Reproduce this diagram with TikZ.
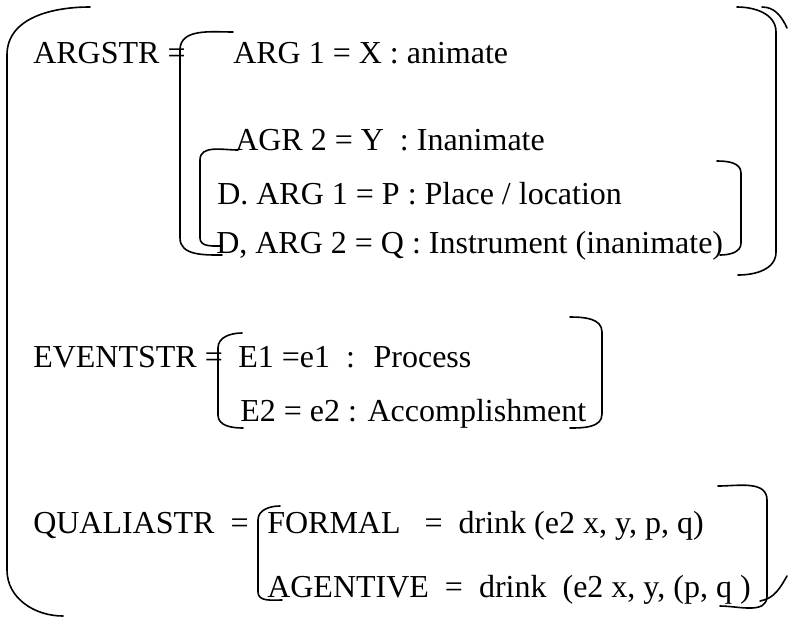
\documentclass[tikz,border=0pt]{standalone}
\usepackage{fontspec}
\setmainfont{Liberation Serif}
\tikzset{
  entry/.style={
    anchor=base west,
    inner sep=0pt,
    font=\fontsize{24}{28}\selectfont
  },
  brack/.style={line width=1.2pt, line cap=round}
}

\begin{document}
\begin{tikzpicture}[x=0.75pt,y=-0.75pt]
\useasboundingbox (0,0) rectangle (788,618);

% left column
\node[entry] (argstr) at (33,63) {ARGSTR =};
\node[entry] (evstr) at (33,367) {EVENTSTR =};
\node[entry] (qstr) at (33,533) {QUALIASTR~~=};

% argument structure
\node[entry] (arg1) at (233,63) {ARG 1 = X : animate};
\node[entry] (agr2) at (235,150) {AGR 2 = Y~ : Inanimate};
\node[entry] (darg1) at (217,204) {D. ARG 1 = P : Place / location};
\node[entry] (darg2) at (216,253) {D, ARG 2 = Q : Instrument (inanimate)};

% event structure
\node[entry] (e1) at (238,367) {E1 =e1~ :~ Process};
\node[entry] (e2) at (240,421) {E2 = e2 : Accomplishment};

% qualia structure
\node[entry] (formal) at (267,533) {FORMAL~~ =~ drink (e2 x, y, p, q)};
\node[entry] (agentive) at (267,597) {AGENTIVE~ =~ drink~ (e2 x, y, (p, q )};

% outer brackets
\draw[brack] (90,7) to[out=180,in=90] (7,55) -- (7,570) to[out=-90,in=180] (63,616);
\draw[brack] (737,7) to[out=0,in=90] (776,32) -- (776,252) to[out=-90,in=0] (738,275);
\draw[brack] (762,7) to[out=0,in=115] (787,28);

% ARGSTR brackets
\draw[brack] (233,32) to[out=180,in=90] (180,50) -- (180,238) to[out=-90,in=180] (222,255);
\draw[brack] (238,150) to[out=180,in=90] (200,160) -- (200,238) to[out=-90,in=180] (222,246);
\draw[brack] (717,161) to[out=0,in=90] (741,173) -- (741,243) to[out=-90,in=0] (720,255);

% EVENTSTR brackets
\draw[brack] (242,333) to[out=180,in=90] (218,348) -- (218,415) to[out=-90,in=180] (243,428);
\draw[brack] (570,317) to[out=0,in=90] (602,332) -- (602,414) to[out=-90,in=0] (570,428);

% QUALIASTR brackets
\draw[brack] (280,506) to[out=180,in=90] (258,520) -- (258,592) to[out=-90,in=180] (282,600);
\draw[brack] (718,486) to[out=0,in=90] (767,500) -- (767,596) to[out=-90,in=0] (720,606);
\draw[brack] (760,601) to[out=10,in=-120] (787,576);
\end{tikzpicture}
\end{document}
